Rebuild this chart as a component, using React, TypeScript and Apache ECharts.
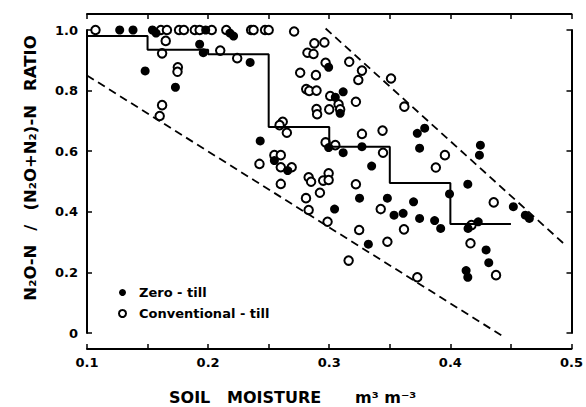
import React, { useEffect, useRef } from "react";
import * as echarts from "echarts";

// Soil moisture (m3 m-3), N2O-N / (N2O+N2)-N ratio
const zeroTill: number[][] = [
  [0.127, 1.0], [0.138, 1.0], [0.154, 1.0], [0.157, 0.99], [0.198, 1.0], [0.218, 0.99], [0.221, 0.98],
  [0.193, 0.953], [0.196, 0.925], [0.2347, 0.893], [0.148, 0.865], [0.173, 0.811],
  [0.2995, 0.877], [0.3115, 0.796], [0.305, 0.778], [0.309, 0.725],
  [0.243, 0.634], [0.2995, 0.612], [0.3115, 0.595], [0.327, 0.615],
  [0.2547, 0.569], [0.2657, 0.536], [0.3044, 0.409], [0.335, 0.551], [0.325, 0.445], [0.348, 0.445],
  [0.3535, 0.389], [0.361, 0.395], [0.3323, 0.293],
  [0.3746, 0.61], [0.4248, 0.62], [0.424, 0.587], [0.4144, 0.491], [0.3993, 0.459], [0.452, 0.417],
  [0.4619, 0.389], [0.4652, 0.378],
  [0.3696, 0.433], [0.3746, 0.378], [0.387, 0.371], [0.392, 0.345], [0.4146, 0.345], [0.423, 0.367],
  [0.4295, 0.274], [0.4317, 0.232], [0.413, 0.206], [0.4144, 0.184],
  [0.3727, 0.659], [0.3788, 0.676],
];

const conventionalTill: number[][] = [
  [0.107, 1.0], [0.161, 1.0], [0.166, 1.0], [0.176, 1.0], [0.18, 1.0], [0.189, 1.0], [0.193, 1.0],
  [0.203, 1.0], [0.215, 1.0], [0.2355, 1.0], [0.2375, 1.0], [0.247, 1.0], [0.25, 1.0], [0.271, 0.995],
  [0.165, 0.964], [0.162, 0.923], [0.21, 0.932], [0.224, 0.907], [0.175, 0.877], [0.1747, 0.862],
  [0.162, 0.752], [0.16, 0.716],
  [0.2877, 0.956], [0.296, 0.959], [0.282, 0.925], [0.287, 0.921], [0.297, 0.892], [0.3165, 0.895],
  [0.327, 0.866], [0.324, 0.835], [0.351, 0.84], [0.362, 0.747],
  [0.276, 0.859], [0.289, 0.851], [0.281, 0.805], [0.2835, 0.799], [0.2895, 0.8], [0.3008, 0.782],
  [0.3077, 0.755], [0.309, 0.738], [0.322, 0.763], [0.3, 0.738], [0.2895, 0.739], [0.29, 0.722],
  [0.2616, 0.697], [0.259, 0.686], [0.265, 0.661], [0.297, 0.629], [0.305, 0.62], [0.327, 0.657],
  [0.344, 0.668], [0.3444, 0.595], [0.2547, 0.587], [0.26, 0.587],
  [0.2424, 0.558], [0.26, 0.547], [0.269, 0.547], [0.26, 0.492], [0.283, 0.514], [0.285, 0.499],
  [0.295, 0.503], [0.2995, 0.527], [0.2995, 0.505], [0.2923, 0.463], [0.2808, 0.445], [0.283, 0.406],
  [0.2986, 0.367], [0.322, 0.491], [0.3425, 0.409], [0.3617, 0.342], [0.3247, 0.34], [0.348, 0.301],
  [0.316, 0.239],
  [0.3955, 0.587], [0.388, 0.546], [0.4358, 0.431], [0.4174, 0.356], [0.4166, 0.296], [0.4377, 0.191],
  [0.3727, 0.184],
];

const stepMoisture = [0.1, 0.15, 0.2, 0.25, 0.3, 0.35, 0.4, 0.45];
const stepRatio = [0.98, 0.935, 0.92, 0.68, 0.615, 0.495, 0.36, 0.36];

const upperBound: number[][] = [[0.297, 1.005], [0.495, 0.29]];
const lowerBound: number[][] = [[0.1, 0.85], [0.445, -0.015]];

const seriesNames = ["Zero - till", "Conventional - till"];
const xTitle = "SOIL   MOISTURE";
const xUnit = "m³ m⁻³";
const yTitle = "N₂O-N \u2002/\u2002 (N₂O+N₂)-N \u2002RATIO";

const F = "'DejaVu Sans', sans-serif";

export default function App() {
  const ref = useRef<HTMLDivElement>(null);
  useEffect(() => {
    document.body.style.margin = "0";
    const chart = echarts.init(ref.current as HTMLDivElement, null, { renderer: "svg" });
    const axisLine = () => ({ show: true, onZero: false, lineStyle: { color: "#000", width: 2 } });
    const axisTick = () => ({ show: true, inside: true, length: 5, lineStyle: { color: "#000", width: 1.5 } });
    const labelStyle = { color: "#000", fontFamily: F, fontWeight: "bold" as const, fontSize: 13 };
    chart.setOption({
      animation: false,
      backgroundColor: "#fff",
      grid: { left: 87, right: 14, top: 30, bottom: 74, containLabel: false },
      xAxis: [
        {
          type: "value", position: "bottom", offset: 16, min: 0.1, max: 0.5, interval: 0.05,
          axisLine: axisLine(), axisTick: axisTick(), splitLine: { show: false },
          axisLabel: {
            ...labelStyle, margin: 7,
            formatter: (v: number) => (Math.round(v * 100) % 10 === 0 ? v.toFixed(1) : ""),
          },
        },
        {
          type: "value", position: "top", offset: 16, min: 0.1, max: 0.5, interval: 0.05,
          axisLine: axisLine(), axisTick: axisTick(), splitLine: { show: false }, axisLabel: { show: false },
        },
      ],
      yAxis: [
        {
          type: "value", position: "left", min: 0, max: 1, interval: 0.2,
          axisLine: axisLine(), axisTick: axisTick(), splitLine: { show: false },
          axisLabel: { ...labelStyle, margin: 9, formatter: (v: number) => (v === 0 ? "0" : v.toFixed(1)) },
        },
        {
          type: "value", position: "right", min: 0, max: 1, interval: 0.2,
          axisLine: axisLine(), axisTick: axisTick(), splitLine: { show: false }, axisLabel: { show: false },
        },
      ],
      legend: {
        orient: "vertical", left: 113, top: 281, itemWidth: 7, itemHeight: 7, itemGap: 8,
        data: seriesNames, icon: "circle",
        textStyle: { ...labelStyle, padding: [0, 0, 0, 8] },
      },
      graphic: [
        {
          type: "text", x: 30, y: 168, rotation: Math.PI / 2,
          style: { text: yTitle, fill: "#000", fontFamily: F, fontWeight: "bold", fontSize: 16.5, align: "center", verticalAlign: "middle" },
        },
        {
          type: "text", x: 169, y: 397,
          style: { text: xTitle, fill: "#000", fontFamily: F, fontWeight: "bold", fontSize: 16, align: "left", verticalAlign: "middle" },
        },
        {
          type: "text", x: 355, y: 397,
          style: { text: xUnit, fill: "#000", fontFamily: F, fontWeight: "bold", fontSize: 16, align: "left", verticalAlign: "middle" },
        },
      ],
      series: [
        {
          name: seriesNames[1], type: "scatter", data: conventionalTill, symbol: "circle", symbolSize: 8.5,
          itemStyle: { color: "#fff", borderColor: "#000", borderWidth: 2, opacity: 1 },
        },
        {
          name: seriesNames[0], type: "scatter", data: zeroTill, symbol: "circle", symbolSize: 9,
          itemStyle: { color: "#000", opacity: 1 },
        },
        {
          type: "line", step: "end", data: stepMoisture.map((x, i) => [x, stepRatio[i]]),
          showSymbol: false, symbol: "none", silent: true,
          lineStyle: { color: "#000", width: 2 },
        },
        {
          type: "line", data: upperBound, showSymbol: false, symbol: "none", silent: true, clip: false,
          lineStyle: { color: "#000", width: 1.8, type: [8, 5] },
        },
        {
          type: "line", data: lowerBound, showSymbol: false, symbol: "none", silent: true, clip: false,
          lineStyle: { color: "#000", width: 1.8, type: [8, 5] },
        },
      ],
    });
    return () => chart.dispose();
  }, []);
  return <div ref={ref} style={{ width: 586, height: 407 }} />;
}
